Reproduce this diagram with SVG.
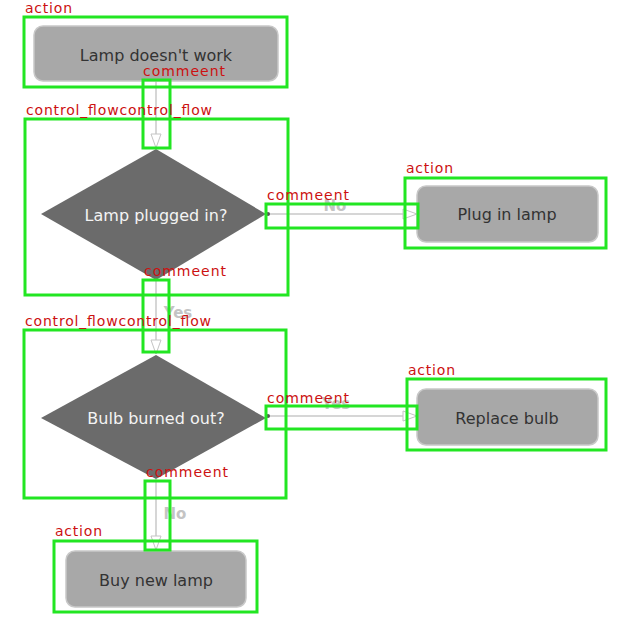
<svg xmlns="http://www.w3.org/2000/svg" width="640" height="640" viewBox="0 0 640 640">
<defs>
<marker id="arr" markerWidth="16" markerHeight="12" refX="15" refY="6" orient="auto" markerUnits="userSpaceOnUse">
<path d="M1,1 L15,6 L1,11 Z" fill="#ffffff" stroke="#c4c4c4" stroke-width="1"/>
</marker>
<style>
.act{fill:#a8a8a8;stroke:#c8c8c8;stroke-width:1.5}
.dia{fill:#6b6b6b}
.t{font-family:"DejaVu Sans","Liberation Sans",sans-serif;font-size:16px;text-anchor:middle}
.td{fill:#333333}
.tw{fill:#f4f4f4}
.con{stroke:#c8c8c8;stroke-width:1.5;fill:none}
.cl{font-family:"DejaVu Sans","Liberation Sans",sans-serif;font-size:15px;fill:#c4c4c4;font-weight:bold}
.g{fill:none;stroke:#22e622;stroke-width:3}
.r{font-family:"DejaVu Sans","Liberation Sans",sans-serif;font-size:14px;fill:#cc1111}
</style>
</defs>
<rect width="640" height="640" fill="#ffffff"/>
<g id="connectors">
<line class="con" x1="156" y1="81" x2="156" y2="148" marker-end="url(#arr)"/>
<line class="con" x1="267" y1="214" x2="417" y2="214" marker-end="url(#arr)"/>
<circle cx="268" cy="214" r="2" fill="#555"/>
<text class="cl" x="335" y="211" text-anchor="middle">No</text>
<line class="con" x1="156" y1="280" x2="156" y2="354" marker-end="url(#arr)"/>
<text class="cl" x="178" y="318" text-anchor="middle">Yes</text>
<line class="con" x1="267" y1="416" x2="417" y2="416" marker-end="url(#arr)"/>
<circle cx="268" cy="416" r="2" fill="#555"/>
<text class="cl" x="336" y="409" text-anchor="middle">Yes</text>
<line class="con" x1="156" y1="479" x2="156" y2="550" marker-end="url(#arr)"/>
<text class="cl" x="175" y="519" text-anchor="middle">No</text>
</g>
<g id="n1">
<rect class="act" x="34" y="26" width="244" height="55" rx="9"/>
<text class="t td" x="156" y="61">Lamp doesn't work</text>
</g>
<g id="n2">
<polygon class="dia" points="156,149 266,214 156,280 41,214"/>
<text class="t tw" x="156" y="221">Lamp plugged in?</text>
</g>
<g id="n3">
<rect class="act" x="417" y="186" width="181" height="56" rx="9"/>
<text class="t td" x="507" y="220">Plug in lamp</text>
</g>
<g id="n4">
<polygon class="dia" points="156,355 266,418 156,479 41,418"/>
<text class="t tw" x="156" y="424">Bulb burned out?</text>
</g>
<g id="n5">
<rect class="act" x="417" y="389" width="181" height="56" rx="9"/>
<text class="t td" x="507" y="424">Replace bulb</text>
</g>
<g id="n6">
<rect class="act" x="66" y="551" width="180" height="56" rx="9"/>
<text class="t td" x="156" y="586">Buy new lamp</text>
</g>
<g id="annotations">
<rect class="g" x="24" y="17" width="263" height="70"/>
<rect class="g" x="143" y="80" width="27" height="68"/>
<rect class="g" x="25" y="119" width="263" height="176"/>
<rect class="g" x="405" y="178" width="201" height="70"/>
<rect class="g" x="266" y="204" width="152" height="24"/>
<rect class="g" x="143" y="280" width="26" height="72"/>
<rect class="g" x="24" y="330" width="262" height="168"/>
<rect class="g" x="407" y="379" width="199" height="71"/>
<rect class="g" x="266" y="406" width="151" height="23"/>
<rect class="g" x="145" y="481" width="25" height="69"/>
<rect class="g" x="54" y="541" width="203" height="71"/>
<text class="r" x="25" y="13" textLength="47">action</text>
<text class="r" x="143" y="76" textLength="82">commeent</text>
<text class="r" x="26" y="115" textLength="186">control_flowcontrol_flow</text>
<text class="r" x="406" y="173" textLength="47">action</text>
<text class="r" x="267" y="200" textLength="82">commeent</text>
<text class="r" x="144" y="276" textLength="82">commeent</text>
<text class="r" x="25" y="326" textLength="186">control_flowcontrol_flow</text>
<text class="r" x="408" y="375" textLength="47">action</text>
<text class="r" x="267" y="403" textLength="82">commeent</text>
<text class="r" x="146" y="477" textLength="82">commeent</text>
<text class="r" x="55" y="536" textLength="47">action</text>
</g>
</svg>
